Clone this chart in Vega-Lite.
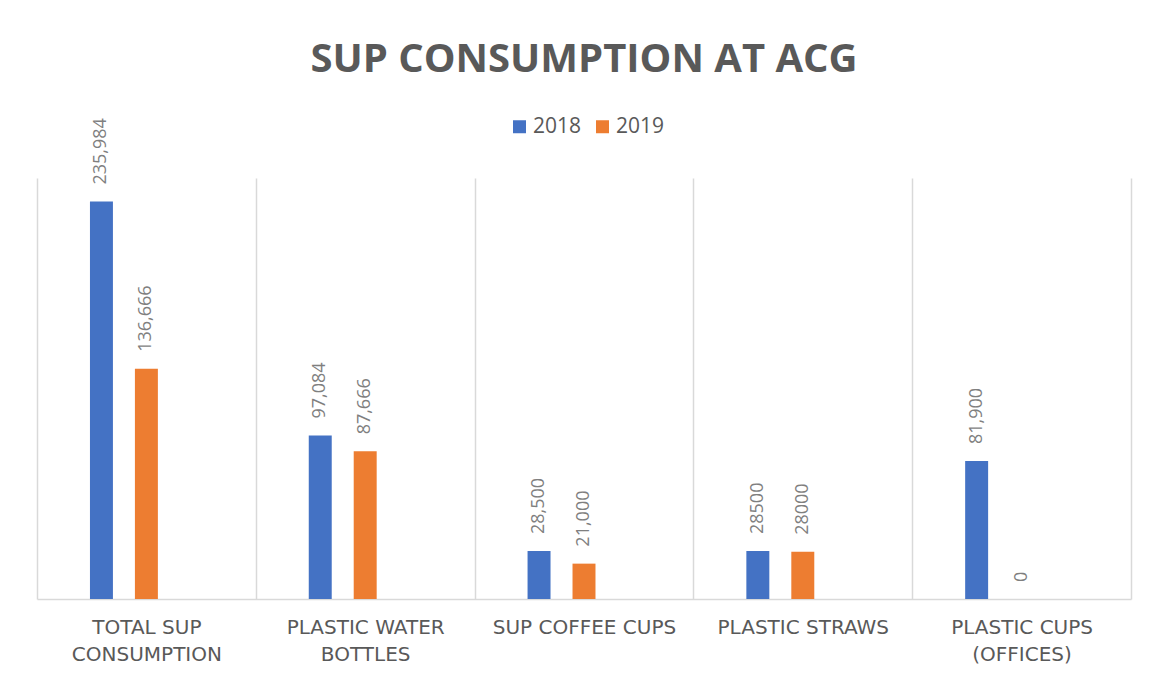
{
  "$schema": "https://vega.github.io/schema/vega-lite/v6.json",
  "autosize": "none",
  "width": 1094,
  "height": 421,
  "padding": {"left": 37, "top": 178, "right": 27, "bottom": 75},
  "background": "white",
  "title": {
    "text": "SUP CONSUMPTION AT ACG",
    "font": "Open Sans",
    "fontSize": 40,
    "fontWeight": "bold",
    "color": "#595959",
    "anchor": "middle",
    "offset": 36
  },
  "data": {
    "values": [
      {"category": "TOTAL SUP CONSUMPTION", "year": "2018", "value": 235984, "label": "235,984"},
      {"category": "TOTAL SUP CONSUMPTION", "year": "2019", "value": 136666, "label": "136,666"},
      {"category": "PLASTIC WATER BOTTLES", "year": "2018", "value": 97084, "label": "97,084"},
      {"category": "PLASTIC WATER BOTTLES", "year": "2019", "value": 87666, "label": "87,666"},
      {"category": "SUP COFFEE CUPS", "year": "2018", "value": 28500, "label": "28,500"},
      {"category": "SUP COFFEE CUPS", "year": "2019", "value": 21000, "label": "21,000"},
      {"category": "PLASTIC STRAWS", "year": "2018", "value": 28500, "label": "28500"},
      {"category": "PLASTIC STRAWS", "year": "2019", "value": 28000, "label": "28000"},
      {"category": "PLASTIC CUPS (OFFICES)", "year": "2018", "value": 81900, "label": "81,900"},
      {"category": "PLASTIC CUPS (OFFICES)", "year": "2019", "value": 0, "label": "0"}
    ]
  },
  "encoding": {
    "x": {
      "field": "category",
      "type": "nominal",
      "sort": null,
      "scale": {"paddingInner": 0, "paddingOuter": 0},
      "axis": {
        "title": null,
        "labelAngle": 0,
        "labelFont": "DejaVu Sans",
        "labelFontSize": 20,
        "labelColor": "#595959",
        "labelLineHeight": 27,
        "labelPadding": 18,
        "labelLimit": 300,
        "ticks": false,
        "domainColor": "#d9d9d9",
        "domainWidth": 1.5,
        "grid": true,
        "gridColor": "#d9d9d9",
        "gridWidth": 1.5,
        "tickBand": "extent",
        "labelExpr": "indexof(['TOTAL SUP CONSUMPTION','PLASTIC WATER BOTTLES','PLASTIC CUPS (OFFICES)'], datum.value) >= 0 ? [slice(datum.value, 0, lastindexof(datum.value, ' ')), slice(datum.value, lastindexof(datum.value, ' ') + 1)] : datum.value"
      }
    },
    "xOffset": {
      "field": "year",
      "type": "nominal",
      "scale": {"domain": ["2017", "2018", "2019", "2020", "2021"], "paddingInner": 0.489, "paddingOuter": 0.178}
    },
    "y": {
      "field": "value",
      "type": "quantitative",
      "scale": {"domain": [0, 250000], "nice": false},
      "axis": null
    }
  },
  "layer": [
    {
      "mark": {"type": "bar"},
      "encoding": {
        "color": {
          "field": "year",
          "type": "nominal",
          "scale": {"domain": ["2018", "2019"], "range": ["#4472C4", "#ED7D31"]},
          "legend": {
            "title": null,
            "orient": "none",
            "direction": "horizontal",
            "legendX": 472,
            "legendY": -62,
            "symbolType": "square",
            "symbolSize": 169,
            "symbolStrokeWidth": 0,
            "labelFont": "Open Sans",
            "labelFontSize": 21,
            "labelColor": "#595959",
            "labelOffset": 3,
            "columnPadding": 10
          }
        }
      }
    },
    {
      "mark": {
        "type": "text",
        "angle": -90,
        "align": "left",
        "baseline": "middle",
        "dx": 17,
        "font": "Open Sans",
        "fontSize": 18,
        "color": "#7f7f7f"
      },
      "encoding": {
        "text": {"field": "label"}
      }
    }
  ],
  "config": {
    "view": {"stroke": null}
  }
}
